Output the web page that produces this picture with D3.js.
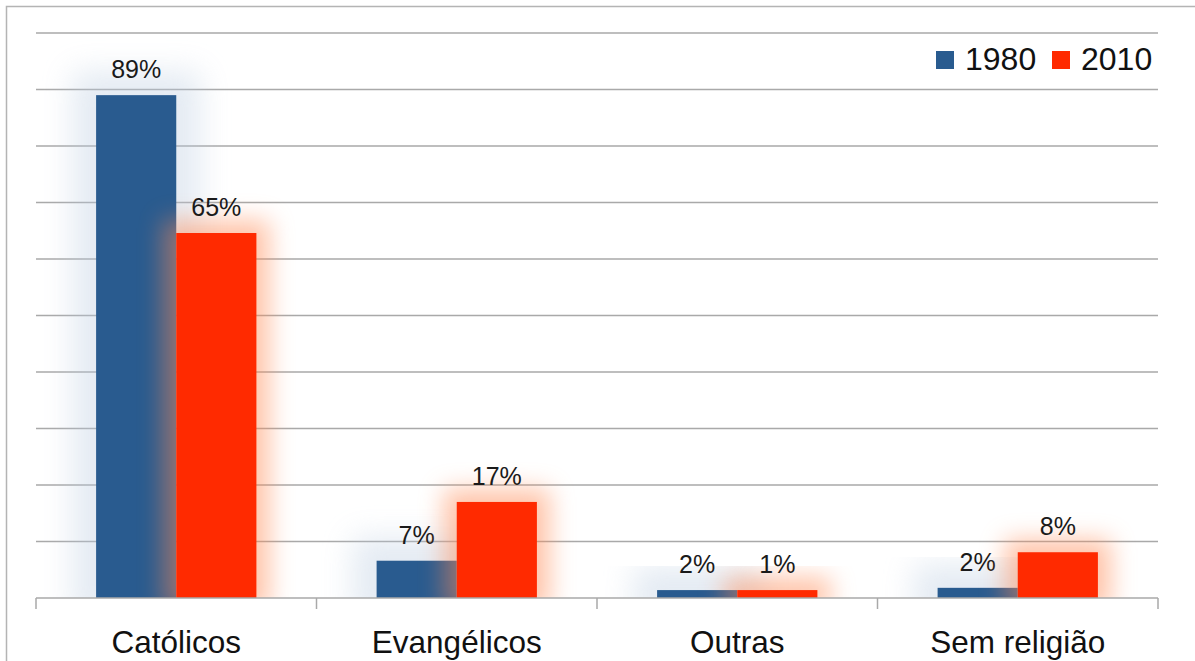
<!DOCTYPE html>
<html>
<head>
<meta charset="utf-8">
<script src="https://cdn.jsdelivr.net/npm/d3@7"></script>
<style>
  body { margin: 0; background: #fff; }
  svg { display: block; font-family: "Liberation Sans", Arial, sans-serif; }
</style>
</head>
<body>
<div id="chart"></div>
<script>
// religion share in Brazil, 1980 vs 2010
const categories = ['Católicos', 'Evangélicos', 'Outras', 'Sem religião'];
const series = ['1980', '2010'];
const values1980 = [89, 6.6, 1.4, 1.8];
const values2010 = [64.6, 17, 1.4, 8.1];
const labels1980 = ['89%', '7%', '2%', '2%'];
const labels2010 = ['65%', '17%', '1%', '8%'];
const yTicks = [0, 10, 20, 30, 40, 50, 60, 70, 80, 90, 100];

const colors = { '1980': '#295b8f', '2010': '#ff2a00' };
const glowColors = { '1980': '#b9cbe0', '2010': '#ff8a55' };

const W = 1195, H = 661;
const margin = { top: 33, right: 37, bottom: 63, left: 36 };
const width = W - margin.left - margin.right;
const height = H - margin.top - margin.bottom;

const rows = series.map((s, i) => ({
  key: s,
  values: i === 0 ? values1980 : values2010,
  labels: i === 0 ? labels1980 : labels2010
}));

const svg = d3.select('#chart').append('svg')
  .attr('width', W)
  .attr('height', H);

const defs = svg.append('defs');
series.forEach(s => {
  const f = defs.append('filter')
    .attr('id', 'glow' + s)
    .attr('x', '-200%').attr('y', '-300%')
    .attr('width', '500%').attr('height', '700%');
  f.append('feMorphology').attr('operator', 'dilate').attr('radius', s === '1980' ? 24 : 13);
  f.append('feGaussianBlur').attr('stdDeviation', s === '1980' ? 15 : 12);
});

// glows stop at the baseline
defs.append('clipPath')
  .attr('id', 'plotClip')
  .append('rect')
  .attr('x', -30).attr('y', -40)
  .attr('width', width + 60).attr('height', height + 40);

// outer frame
svg.append('rect')
  .attr('x', 6.5).attr('y', 6.5)
  .attr('width', W + 10).attr('height', H + 10)
  .attr('fill', 'none')
  .attr('stroke', '#b4b4b4')
  .attr('stroke-width', 1.5);

const g = svg.append('g')
  .attr('transform', `translate(${margin.left},${margin.top})`);

const x0 = d3.scaleBand()
  .domain(categories)
  .range([0, width]);

const x1 = d3.scaleBand()
  .domain(series)
  .range([0, x0.bandwidth()])
  .paddingOuter(0.75);

const y = d3.scaleLinear()
  .domain([0, 100])
  .range([height, 0]);

// gridlines
g.append('g')
  .selectAll('line')
  .data(yTicks.slice(1))
  .enter().append('line')
  .attr('x1', 0).attr('x2', width)
  .attr('y1', d => y(d)).attr('y2', d => y(d))
  .attr('stroke', '#a9a9a9')
  .attr('stroke-width', 1.5);

const groups = g.selectAll('.series')
  .data(rows)
  .enter().append('g')
  .attr('class', 'series');

groups.each(function (r) {
  const sel = d3.select(this);
  // soft glow behind each bar
  sel.append('g')
    .attr('clip-path', 'url(#plotClip)')
    .selectAll('rect.glow')
    .data(r.values)
    .enter().append('rect')
    .attr('class', 'glow')
    .attr('x', (d, i) => x0(categories[i]) + x1(r.key))
    .attr('y', d => y(d))
    .attr('width', x1.bandwidth())
    .attr('height', d => height - y(d))
    .attr('fill', glowColors[r.key])
    .attr('opacity', r.key === '1980' ? 0.38 : 0.5)
    .attr('filter', `url(#glow${r.key})`);

  sel.selectAll('rect.bar')
    .data(r.values)
    .enter().append('rect')
    .attr('class', 'bar')
    .attr('x', (d, i) => x0(categories[i]) + x1(r.key))
    .attr('y', d => y(d))
    .attr('width', x1.bandwidth())
    .attr('height', d => height - y(d))
    .attr('fill', colors[r.key]);
});

// value labels
groups.each(function (r) {
  d3.select(this).selectAll('text.val')
    .data(r.values)
    .enter().append('text')
    .attr('class', 'val')
    .attr('x', (d, i) => x0(categories[i]) + x1(r.key) + x1.bandwidth() / 2)
    .attr('y', d => y(d) - 17)
    .attr('text-anchor', 'middle')
    .attr('font-size', 25)
    .attr('fill', '#1a1a1a')
    .text((d, i) => r.labels[i]);
});

// x axis
const xAxis = g.append('g')
  .attr('transform', `translate(0,${height})`);

xAxis.append('line')
  .attr('x1', 0).attr('x2', width)
  .attr('stroke', '#a9a9a9')
  .attr('stroke-width', 1.5);

xAxis.selectAll('line.tick')
  .data(categories.concat(['end']))
  .enter().append('line')
  .attr('class', 'tick')
  .attr('x1', d => d === 'end' ? width : x0(d))
  .attr('x2', d => d === 'end' ? width : x0(d))
  .attr('y1', 0).attr('y2', 11)
  .attr('stroke', '#a9a9a9')
  .attr('stroke-width', 1.5);

xAxis.selectAll('text')
  .data(categories)
  .enter().append('text')
  .attr('x', d => x0(d) + x0.bandwidth() / 2)
  .attr('y', 55)
  .attr('text-anchor', 'middle')
  .attr('font-size', 31.5)
  .attr('fill', '#111')
  .text(d => d);

// legend
const legend = svg.append('g')
  .attr('transform', 'translate(936,51)');

const legendItems = legend.selectAll('g')
  .data(series)
  .enter().append('g')
  .attr('transform', (d, i) => `translate(${i * 116},0)`);

legendItems.append('rect')
  .attr('width', 18).attr('height', 18)
  .attr('fill', d => colors[d]);

legendItems.append('text')
  .attr('x', 29)
  .attr('y', 19)
  .attr('font-size', 32)
  .attr('fill', '#111')
  .text(d => d);
</script>
</body>
</html>
